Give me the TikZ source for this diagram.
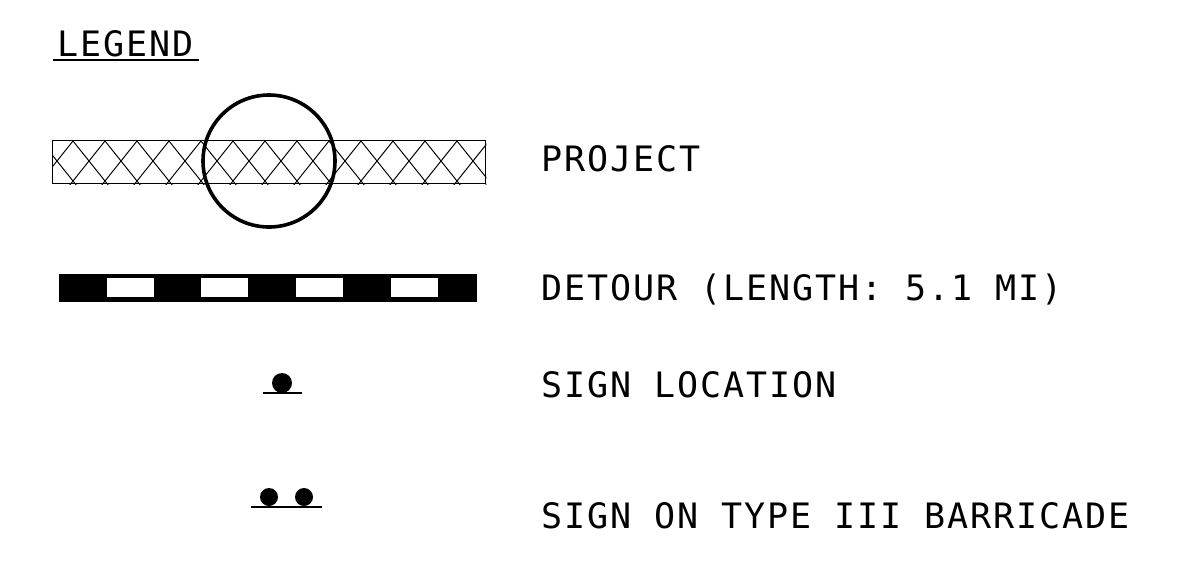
\documentclass[tikz,border=0pt]{standalone}
\usepackage{fontspec}
\newfontfamily\cadfont{DejaVu Sans Mono}[LetterSpace=5.5]

\begin{document}
\begin{tikzpicture}[x=1pt,y=-1pt,
	legend text/.style={font=\cadfont\fontsize{35}{35}\selectfont, inner sep=0pt, anchor=base west},
	bar/.style={inner sep=0pt, anchor=north west},
	sign dot/.style={circle, fill=black, inner sep=0pt}]
\useasboundingbox (0,0) rectangle (1177,571);
% heading
\node[legend text] (legend) at (57,56) {LEGEND};
\draw[line width=1.5pt] (legend.base west) ++(-4,4) -- ++(146,0);
% project
\node[bar, draw, line width=1.3pt, minimum width=433pt, minimum height=43pt] (project bar) at (52,140) {};
\begin{scope}
	\clip (project bar.south west) rectangle (project bar.north east);
	\foreach \i in {-2,...,15}{
		\draw[line width=1pt] ({73+32*\i-40},91) -- ({73+32*\i+40},191);
		\draw[line width=1pt] ({73+32*\i+40},91) -- ({73+32*\i-40},191);
	}
\end{scope}
\node[circle, draw, line width=3.6pt, minimum size=132pt, inner sep=0pt] (project ring) at (269,161) {};
\node[legend text] (project) at (541,171) {PROJECT};
% detour
\node[bar, fill=black, minimum width=418pt, minimum height=28pt] (detour bar) at (59,274) {};
\foreach \x in {107,201,296,391}
	\fill[white] (\x,278) rectangle ++(47,19);
\node[legend text] (detour) at (541,300) {DETOUR (LENGTH: 5.1 MI)};
% signs
\node[sign dot, minimum size=20pt] (sign) at (282,383) {};
\draw[line width=2.2pt] (263,393) -- (302,393);
\node[legend text] (sign text) at (541,397) {SIGN LOCATION};
\node[sign dot, minimum size=18pt] (barricade left) at (269,497) {};
\node[sign dot, minimum size=18pt] (barricade right) at (304,497) {};
\draw[line width=2.2pt] (251,507) -- (322,507);
\node[legend text] (barricade text) at (541,528) {SIGN ON TYPE III BARRICADE};
\end{tikzpicture}
\end{document}
